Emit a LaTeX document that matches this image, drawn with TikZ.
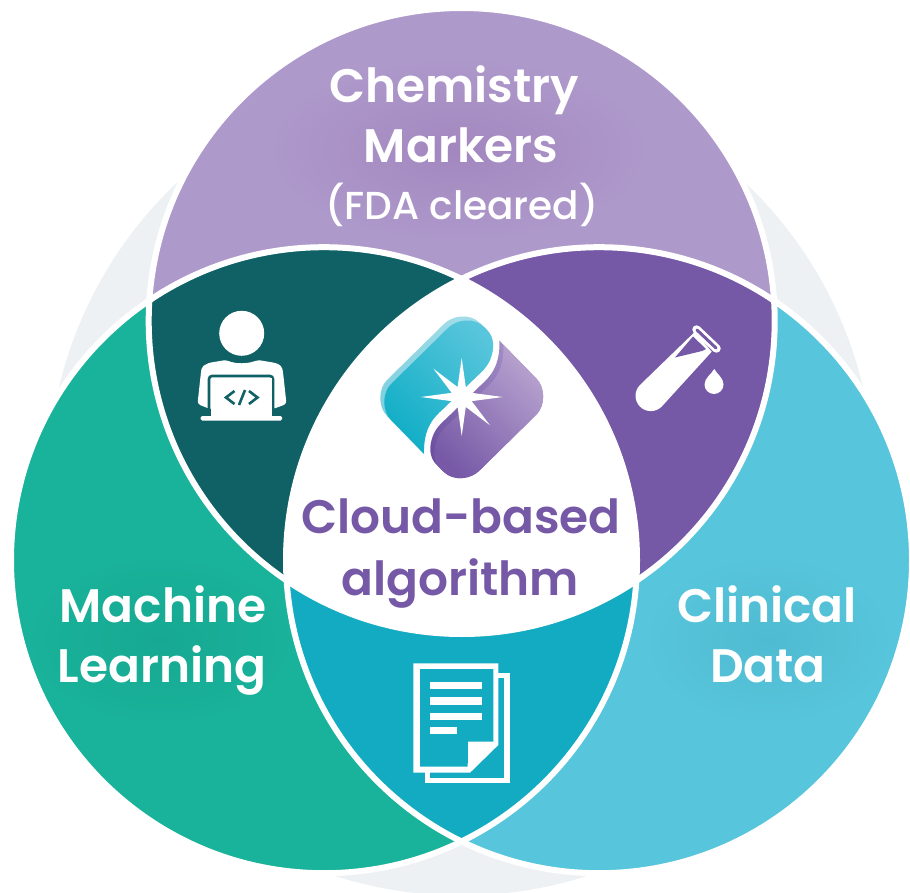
\documentclass[tikz,border=0pt]{standalone}
\usepackage{fontspec}
\usetikzlibrary{calc}
\setmainfont{Poppins}[BoldFont={Poppins SemiBold},UprightFont={Poppins Medium}]
\definecolor{bgGrey}{HTML}{EDF1F4}
\definecolor{topLilac}{HTML}{AE99CB}
\definecolor{topGlow}{HTML}{A287BE}
\definecolor{mlGreen}{HTML}{19B29A}
\definecolor{mlGlow}{HTML}{17A892}
\definecolor{clinBlue}{HTML}{57C5DB}
\definecolor{clinGlow}{HTML}{4FBBD2}
\definecolor{darkTeal}{HTML}{0F6165}
\definecolor{midPurple}{HTML}{7558A6}
\definecolor{midCyan}{HTML}{13ABC2}
\definecolor{lipCyanA}{HTML}{A2DCE8}
\definecolor{lipCyanB}{HTML}{7CCFE0}
\definecolor{logoCyanB}{HTML}{10AEC6}
\definecolor{lipPurpleA}{HTML}{A48FC6}
\definecolor{lipPurpleB}{HTML}{6D51A1}
\definecolor{logoPurpleA}{HTML}{B7A3CF}
\definecolor{logoPurpleB}{HTML}{7759A7}
\newcommand{\cyanshape}{(424,454) -- (387,416) .. controls (378,407) and (378,389) .. (387,380) -- (443,325) .. controls (452,315) and (470,313) .. (480,323) -- (487,330) .. controls (494,337) and (495,348) .. (490,360) .. controls (486,369) and (480,373) .. (473,380) -- (443,409) .. controls (434,417) and (423,428) .. (424,454) -- cycle}
\newcommand{\purpleshape}{(499.4,340.6) -- (536.4,378.6) .. controls (545.4,387.6) and (545.4,405.6) .. (536.4,414.6) -- (480.4,469.6) .. controls (471.4,479.6) and (453.4,481.6) .. (443.4,471.6) -- (436.4,464.6) .. controls (429.4,457.6) and (428.4,446.6) .. (433.4,434.6) .. controls (437.4,425.6) and (443.4,421.6) .. (450.4,414.6) -- (480.4,385.6) .. controls (489.4,377.6) and (500.4,366.6) .. (499.4,340.6) -- cycle}
\tikzset{
  x=1pt,y=-1pt,
  vennline/.style={draw=white,line width=6pt},
  bigtext/.style={anchor=base,inner sep=0pt,text=white,font=\fontsize{47}{47}\selectfont\bfseries},
  subtext/.style={anchor=base,inner sep=0pt,text=white,font=\fontsize{39}{39}\selectfont},
  midtext/.style={anchor=base,inner sep=0pt,text=midPurple,font=\fontsize{47}{47}\selectfont\bfseries},
  iconwhite/.style={fill=white,draw=none},
}
\begin{document}
\begin{tikzpicture}
\clip (0,0) rectangle (910,893);
\fill[white] (0,0) rectangle (910,893);
\coordinate (T) at (461.7,321);
\coordinate (L) at (324,560.2);
\coordinate (R) at (599,560.2);
\coordinate (G) at (461,482.5);
\def\rad{313pt}
% backdrop
\fill[bgGrey] (G) circle [radius=413pt];
% three discs
\fill[topLilac] (T) circle [radius=\rad];
\fill[mlGreen] (L) circle [radius=\rad];
\fill[clinBlue] (R) circle [radius=\rad];
% soft glows behind labels
\shade[inner color=topGlow,outer color=topLilac] (458,150) ellipse [x radius=190pt,y radius=92pt];
\shade[inner color=mlGlow,outer color=mlGreen] (160,640) ellipse [x radius=135pt,y radius=85pt];
\shade[inner color=clinGlow,outer color=clinBlue] (768,640) ellipse [x radius=125pt,y radius=85pt];
% overlaps
\begin{scope}
  \clip (T) circle [radius=\rad];
  \fill[darkTeal] (L) circle [radius=\rad];
\end{scope}
\begin{scope}
  \clip (T) circle [radius=\rad];
  \fill[midPurple] (R) circle [radius=\rad];
\end{scope}
\begin{scope}
  \clip (L) circle [radius=\rad];
  \fill[midCyan] (R) circle [radius=\rad];
\end{scope}
\begin{scope}
  \clip (T) circle [radius=\rad];
  \clip (L) circle [radius=\rad];
  \fill[white] (R) circle [radius=\rad];
\end{scope}
% white rings
\draw[vennline] (T) circle [radius=\rad];
\draw[vennline] (L) circle [radius=\rad];
\draw[vennline] (R) circle [radius=\rad];

% logo
\shade[top color=lipCyanA,bottom color=lipCyanB,shading angle=-45] \cyanshape;
\begin{scope}
  \clip \cyanshape;
  \shade[top color=clinBlue,bottom color=logoCyanB,shading angle=-45,shift={(4pt,-4pt)}] \cyanshape;
\end{scope}
\shade[top color=lipPurpleA,bottom color=lipPurpleB,shading angle=-45] \purpleshape;
\begin{scope}
  \clip \purpleshape;
  \shade[top color=logoPurpleA,bottom color=logoPurpleB,shading angle=-45,shift={(4pt,-4pt)}] \purpleshape;
\end{scope}
% star
\coordinate (S) at (461.7,397);
\fill[white] (S) circle [radius=11pt];
\foreach \ang/\len in {0/41,90/39,180/41,270/39,225/40,45/40,135/18,315/18}{
  \fill[white] ($(S)+(\ang+90:5.5)$) -- ($(S)+(\ang:\len)$) -- ($(S)+(\ang-90:5.5)$) -- cycle;
}

% person icon
\fill[iconwhite] (241.7,333.3) circle [radius=22.5pt];
\fill[iconwhite,rounded corners=3pt] (197.5,404) -- (201,372) .. controls (202,366) and (205,365) .. (208,363) -- (226,360) .. controls (236,364) and (247,364) .. (258,360) -- (276,363) .. controls (280,365) and (282,367) .. (283,372) -- (286.5,404) -- (273,409) -- (210,409) -- cycle;
\draw[darkTeal,line width=2.6pt,rounded corners=3pt] (209,412) -- (209,376) -- (273,376) -- (273,412);
\fill[iconwhite] (210.5,377.5) rectangle (271.5,416);
\fill[iconwhite,rounded corners=1.5pt] (200.5,416) rectangle (282,420.5);
\draw[darkTeal,line width=2.6pt] (234.5,391) -- (226,397.5) -- (234.5,404);
\draw[darkTeal,line width=2.6pt] (249,391) -- (257.5,397.5) -- (249,404);
\draw[darkTeal,line width=2.6pt] (245,390) -- (239,405);

% test tube icon
\fill[iconwhite] (695,331.7) -- (640,385) arc [start angle=135,end angle=315,radius=15.3pt] -- (711.7,351.7) -- cycle;
\fill[midPurple] (693,336.5) -- (675,357.5) -- (702,351) -- (706,349) -- cycle;
\draw[white,line width=8.5pt,line cap=round] (696.5,329.5) -- (716.5,348.5);
\draw[midPurple,line width=3pt,line cap=round] (697,330) -- (716,348);
\fill[iconwhite] (714.3,369) .. controls (717,374) and (723.5,378) .. (723.5,384.5) arc [start angle=0,end angle=-180,radius=9.5pt] .. controls (704.5,378) and (711.5,374) .. (714.3,369) -- cycle;

% document icon
\draw[white,line width=5.5pt] (498,675.5) -- (507,675.5) -- (507,780.5) -- (427.5,780.5) -- (427.5,771);
\fill[iconwhite] (413.3,663.3) -- (498.3,663.3) -- (498.3,745) -- (470,772.7) -- (413.3,772.7) -- cycle;
\fill[midCyan] (420,669) -- (493.3,669) -- (493.3,741.5) -- (468,741.5) -- (467.7,766.7) -- (420,766.7) -- cycle;
\fill[iconwhite] (430,682.3) rectangle (482.3,689.3);
\fill[iconwhite] (430,697.3) rectangle (482.3,705);
\fill[iconwhite] (430,712.7) rectangle (482.3,720);
\fill[iconwhite] (430,727.3) rectangle (456.7,734.3);

% labels
\node[bigtext] (chem) at (454,103) {Chemistry};
\node[bigtext] (mark) at (461,163) {Markers};
\node[subtext] (fda) at (462,220) {(FDA cleared)};
\node[midtext] (cloud) at (461,533) {Cloud-based};
\node[midtext] (algo) at (460,595) {algorithm};
\node[bigtext] (mach) at (163,622) {Machine};
\node[bigtext] (learn) at (162,682) {Learning};
\node[bigtext] (clin) at (767,622) {Clinical};
\node[bigtext] (data) at (768,682) {Data};
\end{tikzpicture}
\end{document}
